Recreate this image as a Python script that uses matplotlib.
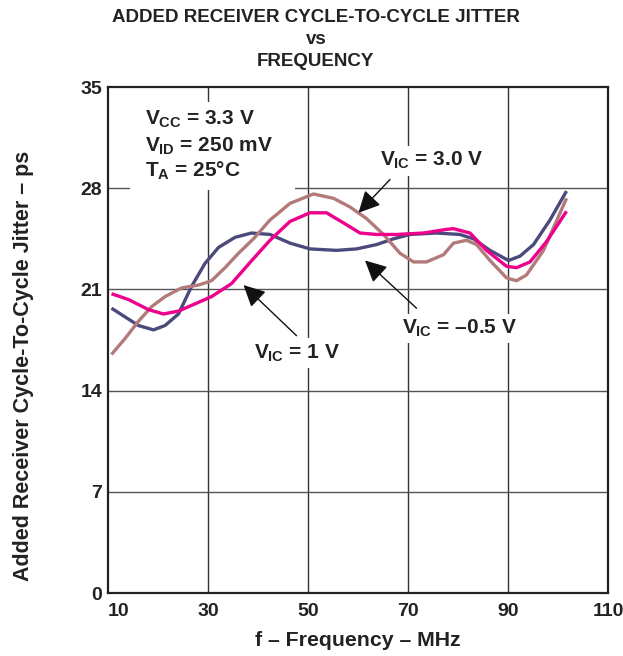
import matplotlib
matplotlib.use("Agg")
import matplotlib.pyplot as plt
from matplotlib.patches import Rectangle

plt.rcParams['font.family'] = ['Liberation Sans', 'DejaVu Sans']
plt.rcParams['font.weight'] = 'bold'
plt.rcParams['mathtext.fontset'] = 'custom'
plt.rcParams['mathtext.rm'] = 'Liberation Sans:bold'
plt.rcParams['mathtext.bf'] = 'Liberation Sans:bold'
plt.rcParams['mathtext.it'] = 'Liberation Sans:bold'

# Data (f in MHz, jitter in ps)
freq_m05 = [10.7, 13.4, 16.1, 19.1, 21.4, 24.1, 26.7, 29.4, 32.1, 35.4, 38.7, 42.4, 46.4, 50.4, 55.7,
            59.7, 63.7, 67.1, 70.4, 75.7, 80.4, 83.1, 86.4, 90.1, 92.4, 95.1, 98.4, 101.7]
jit_m05 = [19.7, 19.1, 18.5, 18.2, 18.5, 19.3, 21.2, 22.8, 23.9, 24.6, 24.9, 24.8, 24.2, 23.8, 23.7,
           23.8, 24.1, 24.5, 24.8, 24.9, 24.8, 24.5, 23.7, 23.0, 23.3, 24.1, 25.8, 27.8]

freq_1v = [10.7, 14.1, 18.1, 21.1, 24.1, 27.4, 30.7, 34.7, 38.5, 42.4, 46.4, 50.4, 53.7, 57.1, 60.4,
           63.7, 67.7, 73.1, 77.7, 79.1, 82.4, 85.7, 89.7, 91.7, 94.4, 97.7, 101.7]
jit_1v = [20.7, 20.3, 19.6, 19.3, 19.5, 20.0, 20.5, 21.4, 22.9, 24.4, 25.7, 26.3, 26.3, 25.6, 24.9,
          24.8, 24.8, 24.9, 25.15, 25.2, 24.9, 23.7, 22.6, 22.5, 22.9, 24.3, 26.4]

freq_3v = [10.7, 13.4, 16.1, 18.7, 21.4, 24.7, 28.1, 30.7, 33.4, 36.1, 39.1, 42.4, 46.4, 51.1, 55.1,
           58.4, 61.7, 65.1, 68.4, 71.1, 73.7, 77.1, 79.1, 81.7, 83.7, 86.4, 89.7, 91.7, 93.7, 97.1, 101.7]
jit_3v = [16.5, 17.6, 18.8, 19.8, 20.5, 21.1, 21.3, 21.6, 22.5, 23.5, 24.5, 25.8, 26.95, 27.6, 27.3,
          26.7, 25.9, 24.8, 23.5, 22.9, 22.9, 23.4, 24.2, 24.4, 24.1, 23.0, 21.8, 21.6, 22.0, 23.7, 27.3]

x_ticks = [10, 30, 50, 70, 90, 110]
y_ticks = [0, 7, 14, 21, 28, 35]

fig = plt.figure(figsize=(6.23, 6.56), dpi=100)
ax = fig.add_axes([108/623, 63/656, 500/623, 506/656])

ax.set_xlim(10, 110)
ax.set_ylim(0, 35)

for xv in x_ticks[1:-1]:
    ax.axvline(xv, color='#333333', lw=1.0, zorder=1)
for yv in y_ticks[1:-1]:
    ax.axhline(yv, color='#555555', lw=1.0, zorder=1)

lw = 2.4
ax.plot(freq_m05, jit_m05, color='#4b4a7d', lw=lw, zorder=3, solid_capstyle='butt')
ax.plot(freq_3v, jit_3v, color='#b27a7a', lw=lw, zorder=3, solid_capstyle='butt')
ax.plot(freq_1v, jit_1v, color='#ec008c', lw=lw, zorder=4, solid_capstyle='butt')

ax.set_xticks(x_ticks)
ax.set_yticks(y_ticks)
ax.set_xticklabels([str(v) for v in x_ticks], fontsize=14, fontweight='bold')
ax.set_yticklabels([str(v) for v in y_ticks], fontsize=14, fontweight='bold')
ax.tick_params(axis='both', length=0, colors='#222222')
ax.tick_params(axis='x', pad=7)
ax.tick_params(axis='y', pad=4)
ax.get_xticklabels()[0].set_horizontalalignment('left')

for sp in ax.spines.values():
    sp.set_linewidth(1.6)
    sp.set_color('#222222')

ax.set_xlabel('f – Frequency – MHz', fontsize=15.3, fontweight='bold', labelpad=8, color='#222222')
ax.set_ylabel('Added Receiver Cycle-To-Cycle Jitter – ps', fontsize=15.5, fontweight='bold', color='#222222')
ax.yaxis.set_label_coords(-0.148, 0.448)

for i, t in enumerate(['ADDED RECEIVER CYCLE-TO-CYCLE JITTER', 'vs', 'FREQUENCY']):
    fig.text(0.507, 1 - (18 + 22 * i) / 656, t, ha='center', va='center',
             fontsize=13.5, fontweight='bold', color='#222222')

# Condition block with white mask over grid
ax.add_patch(Rectangle((14.4, 27.85), 33.0, 6.1, facecolor='white', edgecolor='none', zorder=2))
cond_lines = ['$V_{CC}$ = 3.3 V', '$V_{ID}$ = 250 mV', '$T_A$ = 25°C']
cond_y = [32.37, 30.52, 28.77]
for t, yv in zip(cond_lines, cond_y):
    ax.text(17.4, yv, t, ha='left', va='baseline', fontsize=15, color='#222222', zorder=5)

arrow = dict(arrowstyle='-|>,head_length=0.6,head_width=0.3', color='#111111', lw=1.0,
             mutation_scale=22, shrinkA=0, shrinkB=0)

ax.annotate('', xy=(60.1, 26.3), xytext=(66.4, 28.6), arrowprops=arrow, zorder=6)
ax.annotate('', xy=(61.4, 23.0), xytext=(71.7, 19.7), arrowprops=arrow, zorder=6)
ax.annotate('', xy=(37.1, 21.3), xytext=(47.7, 17.8), arrowprops=arrow, zorder=6)

box = dict(boxstyle='square,pad=0.2', facecolor='white', edgecolor='none')
ax.text(74.8, 29.9, '$V_{IC}$ = 3.0 V', ha='center', va='center', fontsize=15, color='#222222', zorder=5, bbox=box)
ax.text(80.4, 18.3, '$V_{IC}$ = –0.5 V', ha='center', va='center', fontsize=15, color='#222222', zorder=5, bbox=box)
ax.text(47.9, 16.6, '$V_{IC}$ = 1 V', ha='center', va='center', fontsize=15, color='#222222', zorder=5, bbox=box)

fig.savefig('out.png', dpi=100)
